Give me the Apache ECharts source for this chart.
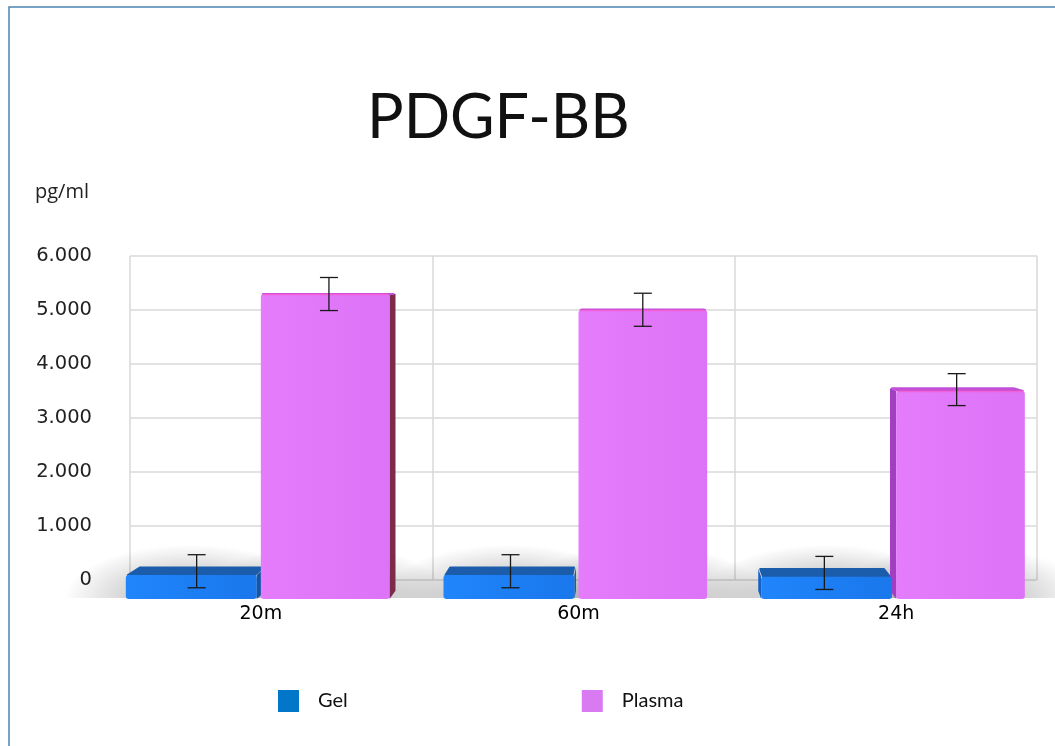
<!DOCTYPE html>
<html>
<head>
<meta charset="utf-8">
<script src="https://cdn.jsdelivr.net/npm/echarts@6/dist/echarts.min.js"></script>
<style>
  html, body { margin: 0; padding: 0; background: #ffffff; }
  #chart { width: 1055px; height: 746px; }
</style>
</head>
<body>
<div id="chart"></div>
<script>
// PDGF-BB release, pg/ml
const categories = ['20m', '60m', '24h'];
const gelValues = [420, 420, 390];
const gelErrors = [290, 290, 290];
const plasmaValues = [5350, 5070, 3650];
const plasmaErrors = [290, 290, 280];
const yTicks = [0, 1000, 2000, 3000, 4000, 5000, 6000];

// Perspective used for the box-shaped bars (screen vanishing point, depth factors)
const VIEW = { x: 640, y: 292, fx: 0.024, fy: 0.027 };

const GEL_LOOK = {
  offset: -0.425, width: 0.412,
  front: ['#2085fb', '#1a77ec'],
  top: '#1b5dab', sideRight: '#1556a4', sideLeft: '#1460c4', edge: null
};
const PLASMA_LOOK = {
  offset: 0, width: 0.405,
  front: ['#e47cfc', '#dd73f7'],
  top: '#c24fd6', sideRight: '#7d2b4a', sideLeft: '#a33dc2', edge: '#f25fd6'
};

function thousands(v) {
  return String(v).replace(/\B(?=(\d{3})+(?!\d))/g, '.');
}

function makeRender(look) {
  return function (params, api) {
    const ci = api.value(0);
    const v = api.value(1);
    const err = api.value(2);
    const base = api.coord([ci, 0]);
    const top = api.coord([ci, v]);
    const band = api.size([1, 0])[0];
    const w = band * look.width;
    const xl = base[0] + band * look.offset;
    const xr = xl + w;
    const yb = base[1];
    const yt = top[1];
    const cx = (xl + xr) / 2;
    const back = (x, y) => [x + (VIEW.x - x) * VIEW.fx, y + (VIEW.y - y) * VIEW.fy];
    const children = [];

    // soft floor shadow behind the bar
    const R = w / 2 + 62;
    children.push({
      type: 'sector',
      shape: { cx: 0, cy: 0, r0: 0, r: R, startAngle: Math.PI, endAngle: 2 * Math.PI },
      x: cx, y: yb - 1, scaleY: 0.42,
      style: {
        fill: {
          type: 'radial', x: 0, y: 0, r: R, global: true,
          colorStops: [
            { offset: 0, color: 'rgba(0,0,0,0.30)' },
            { offset: 0.5, color: 'rgba(0,0,0,0.17)' },
            { offset: 1, color: 'rgba(0,0,0,0)' }
          ]
        }
      },
      z2: -10
    });

    // visible side face
    if (xr < VIEW.x) {
      children.push({
        type: 'polygon',
        shape: { points: [[xr, yt], [xr, yb], back(xr, yb), back(xr, yt)] },
        style: { fill: look.sideRight },
        z2: 5
      });
    } else if (xl > VIEW.x) {
      children.push({
        type: 'polygon',
        shape: { points: [[xl, yt], [xl, yb], back(xl, yb), back(xl, yt)] },
        style: { fill: look.sideLeft },
        z2: 5
      });
    }

    // top face
    children.push({
      type: 'polygon',
      shape: { points: [[xl + 2, yt], [xr - 2, yt], back(xr - 2, yt), back(xl + 2, yt)] },
      style: { fill: look.top, stroke: look.top, lineWidth: 2, lineJoin: 'round' },
      z2: 5
    });

    // front face
    children.push({
      type: 'rect',
      shape: { x: xl, y: yt, width: w, height: yb - yt, r: 3 },
      style: {
        fill: {
          type: 'linear', x: 0, y: 0, x2: 1, y2: 0,
          colorStops: [
            { offset: 0, color: look.front[0] },
            { offset: 1, color: look.front[1] }
          ]
        }
      },
      z2: 6
    });
    if (look.edge) {
      children.push({
        type: 'line',
        shape: { x1: xl + 2, y1: yt + 0.5, x2: xr - 2, y2: yt + 0.5 },
        style: { stroke: look.edge, lineWidth: 1.5 },
        z2: 7
      });
    }

    // error bar at mid depth of the top face
    const mx = cx + (VIEW.x - cx) * VIEW.fx / 2;
    const my = yt + (VIEW.y - yt) * VIEW.fy / 2;
    const h = api.size([0, err])[1];
    const cap = 9;
    const eStyle = { stroke: '#1a1a1a', lineWidth: 1.3 };
    children.push(
      { type: 'line', shape: { x1: mx, y1: my - h, x2: mx, y2: my + h }, style: eStyle, z2: 20 },
      { type: 'line', shape: { x1: mx - cap, y1: my - h, x2: mx + cap, y2: my - h }, style: eStyle, z2: 20 },
      { type: 'line', shape: { x1: mx - cap, y1: my + h, x2: mx + cap, y2: my + h }, style: eStyle, z2: 20 }
    );

    return { type: 'group', children: children };
  };
}

const chart = echarts.init(document.getElementById('chart'), null, { renderer: 'canvas' });

const yMin = yTicks[0];
const yMax = yTicks[yTicks.length - 1];
const yStep = yTicks[1] - yTicks[0];

chart.setOption({
  backgroundColor: '#ffffff',
  animation: false,
  title: [
    {
      text: 'PDGF-BB', left: 367, top: 88, padding: 0,
      textStyle: { fontFamily: 'Lato', fontSize: 61, fontWeight: 'normal', color: '#111111' }
    },
    {
      text: 'pg/ml', left: 35, top: 182, padding: 0,
      textStyle: { fontFamily: 'Open Sans', fontSize: 20, fontWeight: 'normal', color: '#222222' }
    }
  ],
  legend: {
    left: 278, top: 690, padding: 0,
    itemWidth: 21, itemHeight: 22, itemGap: 234,
    icon: 'rect',
    textStyle: { fontFamily: 'Lato', fontSize: 20, color: '#111111', padding: [0, 0, 0, 14] },
    data: ['Gel', 'Plasma']
  },
  graphic: [
    {
      type: 'rect', x: 9, y: 7, silent: true, z: -1,
      shape: { x: 0, y: 0, width: 1200, height: 900 },
      style: { fill: null, stroke: '#4a84b4', lineWidth: 1.5 }
    }
  ],
  grid: [
    { left: 130, width: 907, top: 256, height: 324 },
    { left: 102, width: 957, top: 257, height: 342 }
  ],
  xAxis: [
    {
      gridIndex: 0, type: 'category', data: categories,
      axisLabel: { show: false }, axisTick: { show: false }, axisLine: { show: false },
      splitLine: { show: true, lineStyle: { color: '#d9d9d9', width: 1.5 } }
    },
    {
      gridIndex: 1, type: 'category', data: categories,
      axisLine: { show: false }, axisTick: { show: false },
      axisLabel: { margin: 6, fontFamily: 'DejaVu Sans', fontSize: 19, color: '#000000' }
    }
  ],
  yAxis: [
    {
      gridIndex: 0, type: 'value', min: yMin, max: yMax, interval: yStep,
      axisLine: { show: false }, axisTick: { show: false },
      axisLabel: {
        margin: 38, fontFamily: 'DejaVu Sans', fontSize: 19.5, color: '#222222',
        formatter: thousands
      },
      splitLine: { show: true, lineStyle: { color: '#d9d9d9', width: 1.5 } }
    },
    {
      gridIndex: 1, type: 'value', min: yMin, max: yMax, show: false
    }
  ],
  series: [
    {
      name: 'Gel', type: 'custom', xAxisIndex: 1, yAxisIndex: 1,
      itemStyle: { color: '#0277c9' },
      encode: { x: 0, y: 1 },
      renderItem: makeRender(GEL_LOOK),
      data: categories.map((c, i) => [i, gelValues[i], gelErrors[i]])
    },
    {
      name: 'Plasma', type: 'custom', xAxisIndex: 1, yAxisIndex: 1,
      itemStyle: { color: '#da7af3' },
      encode: { x: 0, y: 1 },
      renderItem: makeRender(PLASMA_LOOK),
      data: categories.map((c, i) => [i, plasmaValues[i], plasmaErrors[i]])
    }
  ]
});
</script>
</body>
</html>
